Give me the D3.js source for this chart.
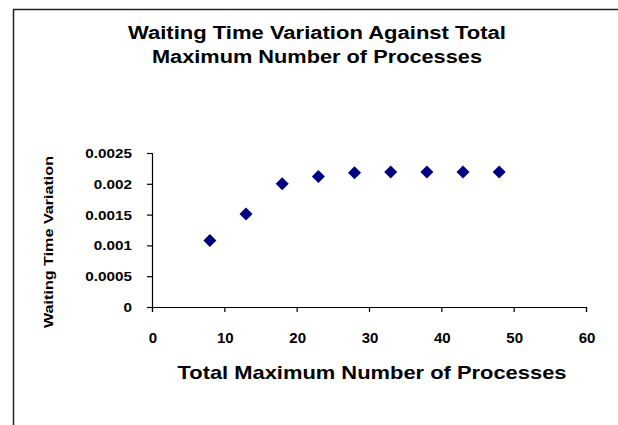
<!DOCTYPE html>
<html>
<head>
<meta charset="utf-8">
<script src="https://cdn.jsdelivr.net/npm/d3@7"></script>
<style>
  body { margin: 0; background: #fff; }
  text { font-family: "Liberation Sans", Arial, sans-serif; font-weight: bold; fill: #000; }
</style>
</head>
<body>
<script>
// data
var processes = [8, 13, 18, 23, 28, 33, 38, 43, 48];
var waitVariation = [0.00108, 0.00151, 0.002, 0.00212, 0.00218, 0.00219, 0.00219, 0.00219, 0.00219];
var xTicks = [0, 10, 20, 30, 40, 50, 60];
var yTicks = [0, 0.0005, 0.001, 0.0015, 0.002, 0.0025];
var yTickLabels = ["0", "0.0005", "0.001", "0.0015", "0.002", "0.0025"];

var w = 618, h = 425;
var plotLeft = 152, plotRight = 586, plotTop = 153, plotBottom = 307;

var svg = d3.select("body").append("svg")
            .attr("width", w)
            .attr("height", h);

// chart area frame (runs off the page right and bottom)
svg.append("rect")
   .attr("x", 13.5).attr("y", 9.5)
   .attr("width", 700).attr("height", 500)
   .style("fill", "none")
   .style("stroke", "#222")
   .style("stroke-width", 1.5);

// title
var title = ["Waiting Time Variation Against Total", "Maximum Number of Processes"];
var titleWidths = [378, 330];
svg.selectAll(".title")
   .data(title)
   .enter().append("text")
   .attr("class", "title")
   .attr("x", 317)
   .attr("y", function(d, i) { return 39 + i * 24; })
   .attr("text-anchor", "middle")
   .attr("textLength", function(d, i) { return titleWidths[i]; })
   .attr("lengthAdjust", "spacingAndGlyphs")
   .style("font-size", "18px")
   .text(function(d) { return d; });

var x = d3.scaleLinear().domain([0, 60]).range([plotLeft, plotRight]);
var y = d3.scaleLinear().domain([0, 0.0025]).range([plotBottom, plotTop]);

var xAxis = d3.axisBottom(x).tickValues(xTicks).tickSize(5).tickFormat("");
var yAxis = d3.axisLeft(y).tickValues(yTicks).tickSize(5).tickFormat("");

svg.append("g")
   .attr("transform", "translate(0," + plotBottom + ")")
   .call(xAxis);
svg.append("g")
   .attr("transform", "translate(" + plotLeft + ",0)")
   .call(yAxis);
svg.selectAll(".domain, .tick line").style("stroke", "#000").style("stroke-width", 1.2);

// tick labels
svg.selectAll(".xlab")
   .data(xTicks)
   .enter().append("text")
   .attr("x", function(d) { return x(d) + 1; })
   .attr("y", 343)
   .attr("text-anchor", "middle")
   .style("font-size", "15px")
   .text(function(d) { return d; });

svg.selectAll(".ylab")
   .data(yTicks)
   .enter().append("text")
   .attr("x", 132)
   .attr("y", function(d) { return y(d) + 5; })
   .attr("text-anchor", "end")
   .style("font-size", "13.5px")
   .text(function(d, i) { return yTickLabels[i]; })
   .each(function() {
       // the original digits are drawn wider than Arial
       var len = this.getComputedTextLength();
       d3.select(this)
         .attr("textLength", len * 1.13)
         .attr("lengthAdjust", "spacingAndGlyphs");
   });

// axis titles
svg.append("text")
   .attr("x", 372)
   .attr("y", 379)
   .attr("text-anchor", "middle")
   .attr("textLength", 389)
   .attr("lengthAdjust", "spacingAndGlyphs")
   .style("font-size", "19px")
   .text("Total Maximum Number of Processes");

svg.append("text")
   .attr("transform", "translate(53,242) rotate(-90)")
   .attr("text-anchor", "middle")
   .attr("textLength", 172)
   .attr("lengthAdjust", "spacingAndGlyphs")
   .style("font-size", "13px")
   .text("Waiting Time Variation");

// points
var diamond = d3.symbol().type(d3.symbolDiamond2).size(108);
svg.selectAll(".pt")
   .data(processes)
   .enter().append("path")
   .attr("d", diamond)
   .attr("transform", function(d, i) {
       return "translate(" + x(d) + "," + y(waitVariation[i]) + ")";
   })
   .style("fill", "#000080");
</script>
</body>
</html>
